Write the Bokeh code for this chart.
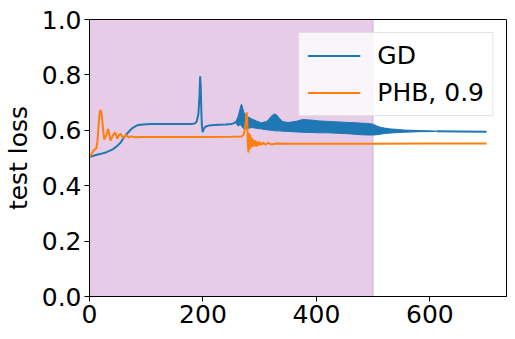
from bokeh.plotting import figure
from bokeh.models import Range1d, FixedTicker, NumeralTickFormatter, BoxAnnotation, Legend, LegendItem
from bokeh.embed import file_html
from bokeh.resources import INLINE

# ---- data ----
shade_start = 0
shade_end = 500

gd_x = [0, 10, 20, 30, 40, 48, 55, 59, 65, 71, 77, 83, 90, 100, 110, 130, 160, 180, 186, 189, 192, 194, 195, 196, 197, 198, 199.5, 201, 204, 210, 220, 240, 250, 255, 258]
gd_y = [0.503, 0.510, 0.515, 0.521, 0.530, 0.542, 0.556, 0.569, 0.585, 0.599, 0.610, 0.617, 0.620, 0.622, 0.623, 0.623, 0.623, 0.623, 0.625, 0.632, 0.66, 0.73, 0.795, 0.76, 0.68, 0.62, 0.593, 0.603, 0.613, 0.617, 0.619, 0.621, 0.623, 0.626, 0.632]

gd_band_x = [258, 262, 265, 267, 268, 270, 272, 275, 280, 286, 295, 303, 312, 316, 320, 324, 327, 330, 334, 340, 350, 365, 376, 390, 405, 420, 440, 460, 478, 490, 500, 507, 513, 520, 530, 545, 554, 570, 583, 600, 612]
gd_band_hi = [0.632, 0.65, 0.675, 0.69, 0.695, 0.68, 0.665, 0.655, 0.648, 0.641, 0.633, 0.627, 0.632, 0.640, 0.650, 0.657, 0.659, 0.655, 0.645, 0.632, 0.628, 0.633, 0.639, 0.637, 0.634, 0.632, 0.630, 0.628, 0.626, 0.625, 0.622, 0.615, 0.611, 0.608, 0.605, 0.603, 0.601, 0.600, 0.599, 0.598, 0.597]
gd_band_lo = [0.626, 0.615, 0.62, 0.62, 0.615, 0.61, 0.605, 0.605, 0.607, 0.610, 0.607, 0.605, 0.602, 0.601, 0.600, 0.599, 0.598, 0.598, 0.598, 0.597, 0.596, 0.594, 0.593, 0.592, 0.591, 0.591, 0.589, 0.587, 0.584, 0.583, 0.583, 0.584, 0.586, 0.588, 0.590, 0.592, 0.593, 0.594, 0.595, 0.595, 0.596]

gd_tail_x = [612, 650, 700]
gd_tail_y = [0.5965, 0.596, 0.595]

phb_x = [0, 4, 7, 10, 12, 14, 16, 18, 20, 22, 24, 26, 29, 33, 37, 41, 45, 49, 52, 55, 59, 62, 65, 69, 73, 80, 90, 100, 150, 200, 250, 268, 272, 275, 277, 278, 279, 280, 281, 282, 283, 284, 285, 286, 287, 288, 289, 290, 292, 294, 296, 298, 300, 303, 306, 310, 315, 320, 330, 350, 400, 500, 600, 700]
phb_y = [0.503, 0.515, 0.527, 0.532, 0.535, 0.56, 0.62, 0.665, 0.674, 0.65, 0.60, 0.566, 0.58, 0.605, 0.563, 0.58, 0.593, 0.57, 0.583, 0.588, 0.572, 0.578, 0.583, 0.574, 0.578, 0.575, 0.576, 0.576, 0.576, 0.576, 0.577, 0.578, 0.585, 0.62, 0.665, 0.64, 0.56, 0.52, 0.59, 0.53, 0.585, 0.535, 0.575, 0.54, 0.57, 0.54, 0.565, 0.545, 0.563, 0.54, 0.56, 0.545, 0.558, 0.547, 0.556, 0.548, 0.555, 0.549, 0.552, 0.551, 0.551, 0.551, 0.552, 0.552]

x_ticks = [0, 200, 400, 600]
y_ticks = [0.0, 0.2, 0.4, 0.6, 0.8, 1.0]
labels = ["GD", "PHB, 0.9"]
y_label = "test loss"

BLUE = "#1f77b4"
ORANGE = "#ff7f0e"
FONT = "DejaVu Sans"
FS = "25px"

p = figure(width=515, height=339, output_backend="svg", toolbar_location=None,
           x_range=Range1d(0, 735), y_range=Range1d(0, 1.0),
           min_border_left=87, min_border_right=9, min_border_top=19, min_border_bottom=43)
p.grid.visible = False
p.outline_line_color = "black"
p.outline_line_width = 1
p.background_fill_color = "white"
p.border_fill_color = "white"

shade = BoxAnnotation(left=shade_start, right=shade_end, fill_color="#800080", fill_alpha=0.2,
                      line_color="#800080", line_alpha=0.2, line_width=1, level="underlay")
p.add_layout(shade)

r_band = p.varea(x=gd_band_x, y1=gd_band_lo, y2=gd_band_hi, fill_color=BLUE)
r_band_hi = p.line(gd_band_x, gd_band_hi, line_color=BLUE, line_width=1)
r_band_lo = p.line(gd_band_x, gd_band_lo, line_color=BLUE, line_width=1)
r_gd = p.line(gd_x, gd_y, line_color=BLUE, line_width=2)
r_gd2 = p.line(gd_tail_x, gd_tail_y, line_color=BLUE, line_width=2)
r_phb = p.line(phb_x, phb_y, line_color=ORANGE, line_width=2)

for ax in (p.xaxis[0], p.yaxis[0]):
    ax.major_label_text_font = FONT
    ax.major_label_text_font_size = FS
    ax.major_label_text_color = "black"
    ax.axis_line_color = "black"
    ax.major_tick_line_color = "black"
    ax.major_tick_out = 5
    ax.major_tick_in = 0
    ax.minor_tick_line_color = None

p.xaxis.ticker = FixedTicker(ticks=x_ticks)
p.yaxis.ticker = FixedTicker(ticks=y_ticks)
p.yaxis.formatter = NumeralTickFormatter(format="0.0")
p.xaxis.major_label_standoff = 3
p.yaxis.major_label_standoff = 3
p.yaxis.axis_label = y_label
p.yaxis.axis_label_text_font = FONT
p.yaxis.axis_label_text_font_size = FS
p.yaxis.axis_label_text_font_style = "normal"
p.yaxis.axis_label_text_color = "black"
p.yaxis.axis_label_standoff = 6

legend = Legend(items=[LegendItem(label=labels[0], renderers=[r_gd]),
                       LegendItem(label=labels[1], renderers=[r_phb])],
                location="top_right")
legend.label_text_font = FONT
legend.label_text_font_size = FS
legend.label_text_color = "black"
legend.glyph_width = 53
legend.glyph_height = 29
legend.label_height = 29
legend.label_standoff = 17
legend.spacing = 8
legend.padding = 8
legend.margin = 13
legend.border_line_color = "#cccccc"
legend.border_line_width = 1
legend.background_fill_color = "white"
legend.background_fill_alpha = 0.8
p.add_layout(legend)

open("out.html", "w").write(file_html(p, INLINE))
